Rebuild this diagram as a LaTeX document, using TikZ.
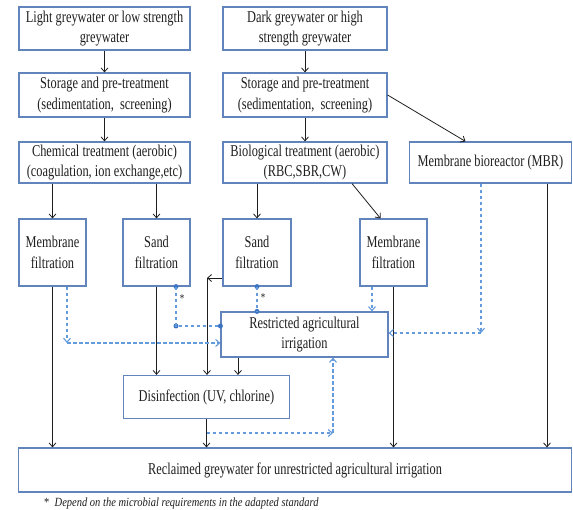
\documentclass[tikz,border=0pt]{standalone}
\usepackage{fontspec}
\setmainfont[FakeStretch=0.75]{Liberation Serif}
\newfontfamily\notefont[FakeStretch=0.84]{Liberation Serif}
\usepackage{tikz}
\usetikzlibrary{arrows.meta,positioning}

\definecolor{boxblue}{RGB}{98,132,188}
\definecolor{dashblue}{RGB}{100,155,220}
\definecolor{dotblue}{RGB}{60,115,195}
\definecolor{inkgrey}{RGB}{30,30,30}

\tikzset{
	stagebox/.style={draw=boxblue, line width=1.2pt, align=center, inner sep=0pt, text=inkgrey, font=\fontsize{16.5}{20.5}\selectfont},
	flow/.style={draw=inkgrey, line width=0.8pt, -{Straight Barb[length=4pt,width=7pt]}},
	reuse/.style={draw=dashblue, line width=1.1pt, dash pattern=on 3.5pt off 2.5pt},
	reusearrow/.style={reuse, -{Straight Barb[length=4pt,width=7pt]}},
	knot/.style={circle, fill=dotblue, inner sep=0pt, minimum size=5pt},
	mark note/.style={text=inkgrey, inner sep=0pt, font=\fontsize{12}{12}\selectfont}
}

\begin{document}
\begin{tikzpicture}[x=1pt, y=-1pt]
	\useasboundingbox (0,0) rectangle (573,510);

	\node[stagebox, minimum width=171pt, minimum height=43pt] (light) at (104.5,28.5) {Light greywater or low strength\\greywater};
	\node[stagebox, minimum width=164pt, minimum height=43pt] (dark) at (305,28.5) {Dark greywater or high\\strength greywater};
	\node[stagebox, minimum width=171pt, minimum height=44pt] (storL) at (104.5,95) {Storage and pre-treatment\\(sedimentation,\ \ screening)};
	\node[stagebox, minimum width=164pt, minimum height=44pt] (storR) at (305,95) {Storage and pre-treatment\\(sedimentation,\ \ screening)};
	\node[stagebox, minimum width=171pt, minimum height=41pt] (chem) at (104.5,162.5) {Chemical treatment (aerobic)\\(coagulation, ion exchange,etc)};
	\node[stagebox, minimum width=164pt, minimum height=41pt] (bio) at (305,162.5) {Biological treatment (aerobic)\\(RBC,SBR,CW)};
	\node[stagebox, minimum width=162pt, minimum height=41pt] (mbr) at (490.5,162.5) {Membrane bioreactor (MBR)};

	\node[stagebox, minimum width=67pt, minimum height=67pt] (memL) at (52.5,252.5) {Membrane\\filtration};
	\node[stagebox, minimum width=67pt, minimum height=67pt] (sandL) at (156.5,252.5) {Sand\\filtration};
	\node[stagebox, minimum width=68pt, minimum height=67pt] (sandM) at (257,252.5) {Sand\\filtration};
	\node[stagebox, minimum width=67pt, minimum height=67pt] (memR) at (393.5,252.5) {Membrane\\filtration};

	\node[stagebox, minimum width=167pt, minimum height=45pt] (restr) at (304.5,334.5) {Restricted agricultural\\irrigation};
	\node[stagebox, minimum width=166pt, minimum height=43pt] (disinf) at (206.5,397) {Disinfection (UV, chlorine)};
	\node[stagebox, minimum width=553pt, minimum height=44pt] (recl) at (295,470) {Reclaimed greywater for unrestricted agricultural irrigation};

	\node[anchor=west, text=inkgrey, inner sep=0pt, font=\notefont\fontsize{12.5}{13}\selectfont] (note) at (44,503) {*\ \ \textit{Depend on the microbial requirements in the adapted standard}};

	\draw[flow] (light) -- (storL);
	\draw[flow] (storL) -- (chem);
	\draw[flow] (dark) -- (storR);
	\draw[flow] (storR) -- (bio);
	\draw[flow] (storR.east) -- ([xshift=-25pt]mbr.north);
	\draw[flow] (chem.south -| memL.north) -- (memL.north);
	\draw[flow] (chem.south -| sandL.north) -- (sandL.north);
	\draw[flow] (bio.south -| sandM.north) -- (sandM.north);
	\draw[flow] ([xshift=47pt]bio.south) -- ([xshift=-13pt]memR.north);

	\coordinate (turn) at (207,278);
	\draw[flow] (sandM.west |- turn) -- (turn);
	\draw[flow] (turn) -- (turn |- disinf.north);
	\draw[flow] (sandL.south) -- (sandL.south |- disinf.north);
	\coordinate (restrout) at ([xshift=-66.5pt]restr.south);
	\draw[flow] (restrout) -- (restrout |- disinf.north);

	\draw[flow] (memL.south) -- (memL.south |- recl.north);
	\draw[flow] (disinf.south) -- (disinf.south |- recl.north);
	\draw[flow] (memR.south) -- (memR.south |- recl.north);
	\coordinate (mbrout) at ([xshift=56.5pt]mbr.south);
	\draw[flow] (mbrout) -- (mbrout |- recl.north);

	\coordinate (memLout) at ([xshift=14.5pt]memL.south);
	\coordinate (bendA) at (67,343);
	\draw[reusearrow] (memLout) -- (bendA);
	\draw[reusearrow] (bendA) -- (bendA -| restr.west);

	\node[knot] (kA) at ([xshift=19.5pt]sandL.south) {};
	\node[knot] (kB) at (176,326) {};
	\node[knot] (kC) at (kB -| restr.west) {};
	\draw[reuse] (kA.center) -- (kB.center) -- (kC.center);
	\node[knot] (kD) at (sandM.south) {};
	\node[knot] (kE) at (sandM.south |- restr.north) {};
	\draw[reuse] (kD.center) -- (kE.center);
	\node[mark note] (starA) at (182,299) {*};
	\node[mark note] (starB) at (263,298) {*};

	\coordinate (memRout) at ([xshift=-21.5pt]memR.south);
	\draw[reusearrow] (memRout) -- (memRout |- restr.north);

	\coordinate (mbrdash) at ([xshift=-9.5pt]mbr.south);
	\coordinate (bendB) at (481,333);
	\draw[reusearrow] (mbrdash) -- (bendB);
	\draw[reusearrow] (bendB) -- (bendB -| restr.east);

	\coordinate (bendC) at (333,433);
	\draw[reusearrow] (disinf.south |- bendC) -- (bendC);
	\draw[reusearrow] (bendC) -- (bendC |- restr.south);
\end{tikzpicture}
\end{document}
